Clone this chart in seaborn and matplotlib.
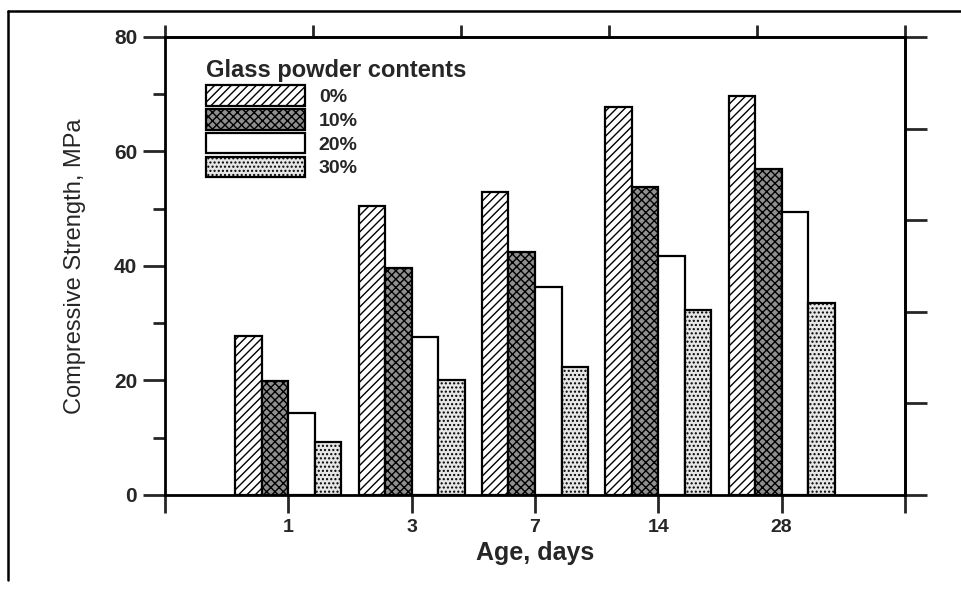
import numpy as np
import pandas as pd
import seaborn as sns
import matplotlib.pyplot as plt
from matplotlib.patches import Patch
from matplotlib.lines import Line2D

# data
AGES = ['1', '3', '7', '14', '28']
CONTENTS = ['0%', '10%', '20%', '30%']
GP_0 = [27.8, 50.5, 52.9, 67.8, 69.7]
GP_10 = [19.9, 39.7, 42.4, 53.8, 56.9]
GP_20 = [14.3, 27.6, 36.3, 41.7, 49.4]
GP_30 = [9.3, 20.1, 22.4, 32.3, 33.5]

sns.set_style('white')
plt.rcParams['font.family'] = ['Liberation Sans', 'DejaVu Sans']
plt.rcParams['hatch.linewidth'] = 1.0

rows = []
for content, vals in zip(CONTENTS, [GP_0, GP_10, GP_20, GP_30]):
    for age, v in zip(AGES, vals):
        rows.append({'Age': age, 'Content': content, 'Strength': v})
df = pd.DataFrame(rows)

fig = plt.figure(figsize=(9.61, 5.92), dpi=100)
ax = fig.add_axes([0.1717, 0.1639, 0.77, 0.7736])

sns.barplot(data=df, x='Age', y='Strength', hue='Content', order=AGES,
            hue_order=CONTENTS, width=0.86, ax=ax, legend=False,
            edgecolor='black', linewidth=1.6, saturation=1)

# fill styles per glass powder content
styles = [
    dict(facecolor='white', hatch='////'),
    dict(facecolor='#8f8f8f', hatch='xxxx'),
    dict(facecolor='white', hatch=None),
    dict(facecolor='#e6e6e6', hatch='....'),
]
for cont, st in zip(ax.containers, styles):
    for bar in cont:
        bar.set_facecolor(st['facecolor'])
        bar.set_hatch(st['hatch'])
        bar.set_edgecolor('black')

ax.set_xlim(-1, 5)
ax.set_ylim(0, 80)

for s in ax.spines.values():
    s.set_linewidth(2)
    s.set_color('black')

# bottom / left ticks
ax.set_xticks(range(5))
ax.set_xticks([-1, 5], minor=True)
ax.set_xticklabels(AGES, fontsize=14, fontweight='bold')
ax.tick_params(axis='x', which='both', direction='out', length=13, width=2,
               bottom=True, top=False, pad=4)
ax.set_yticks([0, 20, 40, 60, 80])
ax.set_yticks([10, 30, 50, 70], minor=True)
ax.set_yticklabels(['0', '20', '40', '60', '80'], fontsize=15, fontweight='bold')
ax.tick_params(axis='y', which='major', direction='out', length=16, width=2,
               left=True, right=False, pad=4)
ax.tick_params(axis='y', which='minor', direction='out', length=9, width=2,
               left=True, right=False)

# top / right ticks with their own spacing, no labels
top = ax.secondary_xaxis('top')
top.set_xticks(np.linspace(-1, 5, 6))
top.tick_params(direction='out', length=9, width=2, labeltop=False)
top.spines['top'].set_linewidth(2)
right = ax.secondary_yaxis('right')
right.set_yticks(np.linspace(0, 80, 6))
right.tick_params(direction='out', length=16, width=2, labelright=False)
right.spines['right'].set_linewidth(2)

ax.set_xlabel('Age, days', fontsize=18, fontweight='bold', labelpad=4)
ax.set_ylabel('Compressive Strength, MPa', fontsize=17, labelpad=20)

handles = [Patch(facecolor=st['facecolor'], hatch=st['hatch'],
                 edgecolor='black', linewidth=1.6) for st in styles]
leg = ax.legend(handles, CONTENTS, title='Glass powder contents',
                loc='upper left', bbox_to_anchor=(0.045, 0.968),
                frameon=False, handlelength=5.1, handleheight=1.25,
                labelspacing=0.15, handletextpad=0.7, borderaxespad=0,
                prop={'size': 14, 'weight': 'bold'},
                title_fontproperties={'size': 17, 'weight': 'bold'})
leg._legend_box.align = 'left'

# scan frame on the left and top edges
fig.add_artist(Line2D([0.0083, 0.0083], [0.02, 0.9814], color='black', lw=1.8))
fig.add_artist(Line2D([0.0083, 1.0], [0.9814, 0.9814], color='black', lw=1.8))

fig.savefig('out.png', dpi=100)
